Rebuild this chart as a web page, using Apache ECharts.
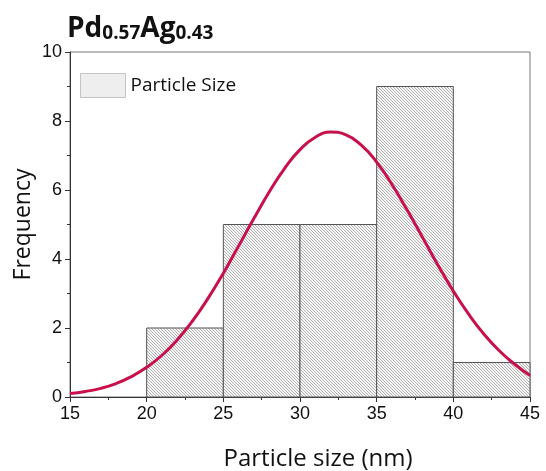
<!DOCTYPE html>
<html>
<head>
<meta charset="utf-8">
<script src="https://cdn.jsdelivr.net/npm/echarts@6/dist/echarts.min.js"></script>
<style>
html,body{margin:0;padding:0;background:#fff;}
#chart{width:546px;height:471px;}
</style>
</head>
<body>
<div id="chart"></div>
<script>
// ---- data ----
const binStart = [20, 25, 30, 35, 40];
const binEnd   = [25, 30, 35, 40, 45];
const counts   = [2, 5, 5, 9, 1];
const fitX = [15,16,17,18,19,20,21,22,23,24,25,26,27,28,29,30,31,32,33,34,35,36,37,38,39,40,41,42,43,44,45];
const fitY = [0.10,0.16,0.25,0.39,0.59,0.86,1.21,1.66,2.21,2.86,3.59,4.38,5.18,5.95,6.63,7.17,7.53,7.68,7.60,7.30,6.81,6.16,5.41,4.62,3.82,3.07,2.40,1.82,1.34,0.95,0.62];
const xTicks = [15,20,25,30,35,40,45];
const yTicks = [0,2,4,6,8,10];
const seriesName = 'Particle Size';

// hatch pattern
function makeHatch(){
  const s = 6;
  const c = document.createElement('canvas');
  c.width = s; c.height = s;
  const ctx = c.getContext('2d');
  const img = ctx.createImageData(s, s);
  for (let y = 0; y < s; y++) {
    for (let x = 0; x < s; x++) {
      const k = ((x - y) % 3 + 3) % 3;
      const v = k === 0 ? 178 : (k === 1 ? 240 : 253);
      const i = (y * s + x) * 4;
      img.data[i] = v; img.data[i+1] = v; img.data[i+2] = v; img.data[i+3] = 255;
    }
  }
  ctx.putImageData(img, 0, 0);
  return c;
}
const hatch = { image: makeHatch(), repeat: 'repeat' };

const histData = binStart.map((s, i) => [s, binEnd[i], counts[i]]);
const fitData = fitX.map((x, i) => [x, fitY[i]]);

const chart = echarts.init(document.getElementById('chart'), null, {renderer: 'canvas'});
chart.setOption({
  animation: false,
  backgroundColor: '#fff',
  title: {
    left: 67, top: 9, padding: 0,
    text: '{b|Pd}{s|0.57}{b|Ag}{s|0.43}',
    textStyle: {
      rich: {
        b: {fontFamily: 'Open Sans', fontWeight: 'bold', fontSize: 28, color: '#111', lineHeight: 34, verticalAlign: 'bottom'},
        s: {fontFamily: 'Open Sans', fontWeight: 'bold', fontSize: 19, color: '#111', lineHeight: 18, verticalAlign: 'bottom'}
      }
    }
  },
  legend: {
    left: 80, top: 73, padding: 0,
    itemWidth: 45, itemHeight: 24,
    itemGap: 6,
    textStyle: {fontFamily: 'Open Sans', fontSize: 19, color: '#111'},
    data: [{name: seriesName, icon: 'rect', itemStyle: {color: '#eeeeee', borderColor: '#c4c4c4', borderWidth: 1}}]
  },
  grid: {
    left: 70, right: 16, top: 52, bottom: 74,
    outerBoundsMode: 'none',
    containLabel: false,
    show: true, borderColor: '#777', borderWidth: 1, backgroundColor: 'transparent'
  },
  xAxis: {
    type: 'value', min: 15, max: 45, interval: 5,
    name: 'Particle size (nm)', nameLocation: 'middle', nameGap: 50,
    nameMoveOverlap: false,
    nameTextStyle: {fontFamily: 'Open Sans', fontSize: 24, color: '#111', padding: [0, 0, 0, 36]},
    axisLine: {show: true, lineStyle: {color: '#333', width: 1}},
    axisTick: {show: true, inside: false, length: 5, lineStyle: {color: '#333'}},
    minorTick: {show: true, splitNumber: 2, length: 3, lineStyle: {color: '#333'}},
    axisLabel: {fontFamily: 'Liberation Sans', fontSize: 18, color: '#111', margin: 8,
      formatter: v => xTicks.includes(v) ? String(v) : ''},
    splitLine: {show: false}
  },
  yAxis: {
    type: 'value', min: 0, max: 10, interval: 2,
    name: 'Frequency', nameLocation: 'middle', nameGap: 35, nameRotate: 90,
    nameMoveOverlap: false,
    nameTextStyle: {fontFamily: 'Open Sans', fontSize: 23, color: '#111'},
    axisLine: {show: true, lineStyle: {color: '#333', width: 1}},
    axisTick: {show: true, inside: false, length: 5, lineStyle: {color: '#333'}},
    minorTick: {show: true, splitNumber: 2, length: 3, lineStyle: {color: '#333'}},
    axisLabel: {fontFamily: 'Liberation Sans', fontSize: 18, color: '#111', margin: 8,
      formatter: v => yTicks.includes(v) ? String(v) : ''},
    splitLine: {show: false}
  },
  series: [
    {
      name: seriesName,
      type: 'custom',
      itemStyle: {color: '#eeeeee', borderColor: '#c4c4c4', borderWidth: 1},
      encode: {x: [0, 1], y: 2},
      data: histData,
      z: 2,
      renderItem: function (params, api) {
        const p0 = api.coord([api.value(0), api.value(2)]);
        const p1 = api.coord([api.value(1), 0]);
        return {
          type: 'rect',
          shape: {x: p0[0], y: p0[1], width: p1[0] - p0[0], height: p1[1] - p0[1]},
          style: {fill: hatch, stroke: '#555', lineWidth: 1}
        };
      }
    },
    {
      name: 'fit',
      type: 'line',
      data: fitData,
      smooth: true,
      showSymbol: false,
      symbol: 'none',
      z: 5,
      lineStyle: {color: '#c8104a', width: 3}
    }
  ]
});
</script>
</body>
</html>
